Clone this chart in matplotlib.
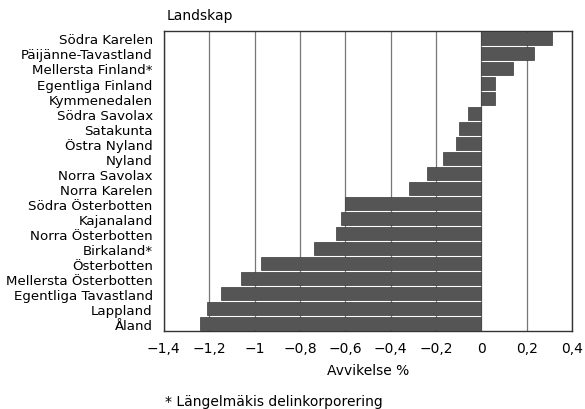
import numpy as np
import matplotlib.pyplot as plt

plt.rcParams['font.family'] = ['Liberation Sans Narrow', 'DejaVu Sans']

regions = ["Södra Karelen", "Päijänne-Tavastland", "Mellersta Finland*",
           "Egentliga Finland", "Kymmenedalen", "Södra Savolax", "Satakunta",
           "Östra Nyland", "Nyland", "Norra Savolax", "Norra Karelen",
           "Södra Österbotten", "Kajanaland", "Norra Österbotten", "Birkaland*",
           "Österbotten", "Mellersta Österbotten", "Egentliga Tavastland",
           "Lappland", "Åland"]
deviation = [0.31, 0.23, 0.14, 0.06, 0.06, -0.06, -0.10, -0.11, -0.17, -0.24,
             -0.32, -0.60, -0.62, -0.64, -0.74, -0.97, -1.06, -1.15, -1.21, -1.24]
ticks = [-1.4, -1.2, -1.0, -0.8, -0.6, -0.4, -0.2, 0, 0.2, 0.4]

fig = plt.figure(figsize=(5.85, 4.10), dpi=100)
ax = fig.add_axes([0.280, 0.190, 0.698, 0.732])
ax.set_axisbelow(True)

y = np.arange(len(regions))
ax.barh(y, deviation, height=0.86, color='#555555', edgecolor='#3a3a3a',
        linewidth=0.5, zorder=3)
ax.set_ylim(len(regions) - 0.5, -0.5)
ax.set_yticks(y)
ax.set_yticklabels(regions, fontsize=9.6)
ax.tick_params(axis='y', length=0, pad=8)

ax.set_xlim(-1.4, 0.4)
ax.set_xticks(ticks)
ax.set_xticklabels([("\u2212" if t < 0 else "") + ("%g" % abs(t)).replace('.', ',')
                    for t in ticks], fontsize=10)
ax.tick_params(axis='x', length=0, pad=7)
ax.xaxis.grid(True, color='#777777', linewidth=0.9)

for s in ax.spines.values():
    s.set_color('#333333')
    s.set_linewidth(1.0)

ax.set_xlabel("Avvikelse %", fontsize=10, labelpad=6)
fig.text(0.285, 0.945, "Landskap", fontsize=10, ha='left', va='bottom')
fig.text(0.282, 0.003, "* Längelmäkis delinkorporering", fontsize=10,
         ha='left', va='bottom')

fig.savefig("out.png", dpi=100)
